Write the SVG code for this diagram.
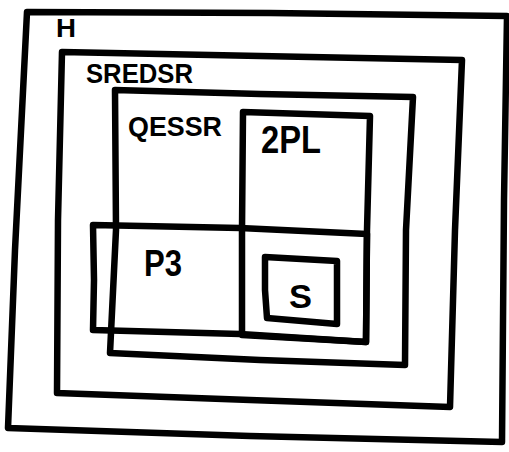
<svg xmlns="http://www.w3.org/2000/svg" width="509" height="452" viewBox="0 0 509 452">
<style>
.b{fill:none;stroke:#000;stroke-width:6.5;stroke-linejoin:round;stroke-linecap:round}
.t{font-family:"Liberation Sans",Arial,sans-serif;font-weight:bold;fill:#000}
</style>
<rect width="509" height="452" fill="#fff"/>
<g id="H">
<path class="b" d="M27,12 L270,13 L507,16 L504,200 L502,442 L250,436 L8,428 L15,250 L27,12 Z"/>
<text class="t" x="56" y="37" font-size="26" textLength="20" lengthAdjust="spacingAndGlyphs">H</text>
</g>
<g id="SREDSR">
<path class="b" d="M62,52 L260,56 L462,60 L455,230 L450,407 L250,400 L57,393 L58,220 L62,52 Z"/>
<text class="t" x="86" y="83" font-size="28" textLength="107" lengthAdjust="spacingAndGlyphs">SREDSR</text>
</g>
<g id="QESSR">
<path class="b" d="M115,90 L260,94 L413,97 L406,230 L405,365 L260,360 L110,353 L116,230 L115,90 Z"/>
<text class="t" x="128" y="136" font-size="28" textLength="94" lengthAdjust="spacingAndGlyphs">QESSR</text>
</g>
<g id="2PL">
<path class="b" d="M243,112 L370,116 L367,230 L366,342 L242,335 L242,230 L243,112 Z"/>
<text class="t" x="261" y="153" font-size="38" textLength="60" lengthAdjust="spacingAndGlyphs">2PL</text>
</g>
<g id="P3">
<path class="b" d="M93,225 L240,228 L367,234 L366,342 L240,334 L93,330 L94,280 L93,225 Z"/>
<text class="t" x="144" y="276" font-size="36" textLength="38" lengthAdjust="spacingAndGlyphs">P3</text>
</g>
<g id="S">
<path class="b" d="M265,257 L337,261 L337,324 L267,318 L265,290 Z"/>
<text class="t" x="289" y="308" font-size="34" textLength="23" lengthAdjust="spacingAndGlyphs">S</text>
</g>
<g id="connectors"></g>
</svg>
